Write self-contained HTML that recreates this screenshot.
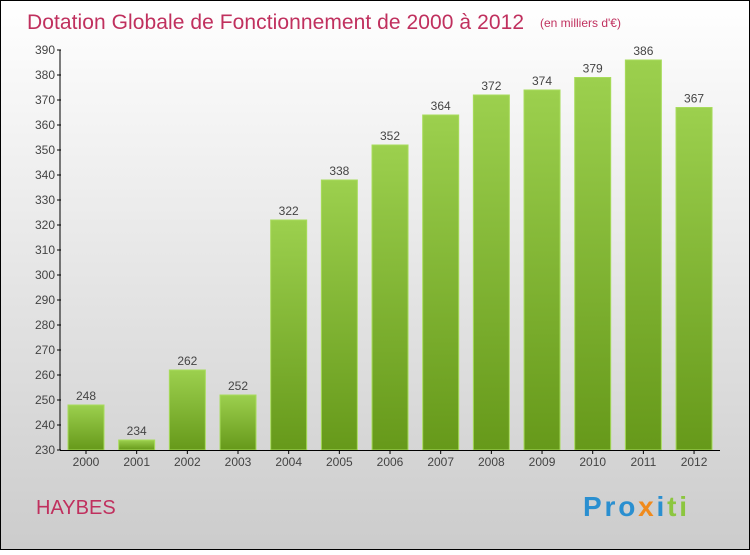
<!DOCTYPE html>
<html><head><meta charset="utf-8">
<style>
body{margin:0;width:750px;height:550px;overflow:hidden;font-family:"Liberation Sans",sans-serif}
</style></head><body>
<svg width="750" height="550" xmlns="http://www.w3.org/2000/svg">
<defs>
<linearGradient id="bg" x1="0" y1="0" x2="0" y2="1"><stop offset="0" stop-color="#ffffff"/><stop offset="1" stop-color="#cccccc"/></linearGradient>
<linearGradient id="bar" x1="0" y1="0" x2="0" y2="1"><stop offset="0" stop-color="#9cd04e"/><stop offset="1" stop-color="#66991a"/></linearGradient>
</defs>
<rect x="0.5" y="0.5" width="749" height="549" fill="url(#bg)" stroke="#000"/>
<text x="27" y="29" font-size="21" fill="#c0305e" textLength="497">Dotation Globale de Fonctionnement de 2000 à 2012</text>
<text x="540" y="27" font-size="12" fill="#c0305e">(en milliers d'€)</text>
<g id="yaxis"></g>
<g id="bars"></g>
<g id="xaxis"></g>
<text x="36" y="514" font-size="20" fill="#c0305e">HAYBES</text>
<text x="583" y="516" font-size="28" font-weight="bold" textLength="104"><tspan fill="#2a8fd0">Pro</tspan><tspan fill="#f08a1c">x</tspan><tspan fill="#2a8fd0">i</tspan><tspan fill="#8cc63f">ti</tspan></text>
</svg>
<script>
const years=["2000","2001","2002","2003","2004","2005","2006","2007","2008","2009","2010","2011","2012"];
const values=[248,234,262,252,322,338,352,364,372,374,379,386,367];
const yTicks=[230,240,250,260,270,280,290,300,310,320,330,340,350,360,370,380,390];
const NS="http://www.w3.org/2000/svg";
const y0=230,y1=390,py0=450,py1=50;
function ys(v){return py0-(v-y0)/(y1-y0)*(py0-py1);}
const x0=60,step=50.67,first=86;
function xs(i){return first+i*step;}
function mk(t,a,p){const e=document.createElementNS(NS,t);for(const k in a)e.setAttribute(k,a[k]);p.appendChild(e);return e;}
const ya=document.getElementById('yaxis'),ba=document.getElementById('bars'),xa=document.getElementById('xaxis');
const ax=mk('line',{x1:x0,y1:py1,x2:x0,y2:py0,stroke:'#000','stroke-width':1},ya);


yTicks.forEach(v=>{
 const y=ys(v);
 const tk=mk('line',{x1:x0-3,y1:y,x2:x0+1,y2:y,stroke:'#000'},ya);
 
 
 const t=mk('text',{x:x0-5,y:y+4,'font-size':12,'text-anchor':'end',fill:'#444'},ya);
 t.textContent=v;
 
 
});
const xl=mk('line',{x1:x0,y1:py0+0.5,x2:720,y2:py0+0.5,stroke:'#000'},xa);


years.forEach((yr,i)=>{
 const cx=xs(i),v=values[i],top=ys(v);
 const r=mk('rect',{x:cx-18,y:top,width:36,height:py0-top,fill:'url(#bar)',stroke:'#a8dc5c','stroke-width':1},ba);
 
 
 const vl=mk('text',{x:cx,y:top-5,'font-size':12,'text-anchor':'middle',fill:'#444'},ba);
 vl.textContent=v;
 
 
 const tk=mk('line',{x1:cx,y1:py0,x2:cx,y2:py0+4,stroke:'#000'},xa);
 
 
 const t=mk('text',{x:cx,y:py0+16,'font-size':12,'text-anchor':'middle',fill:'#444'},xa);
 t.textContent=yr;
 
 
});
</script>
</body></html>
